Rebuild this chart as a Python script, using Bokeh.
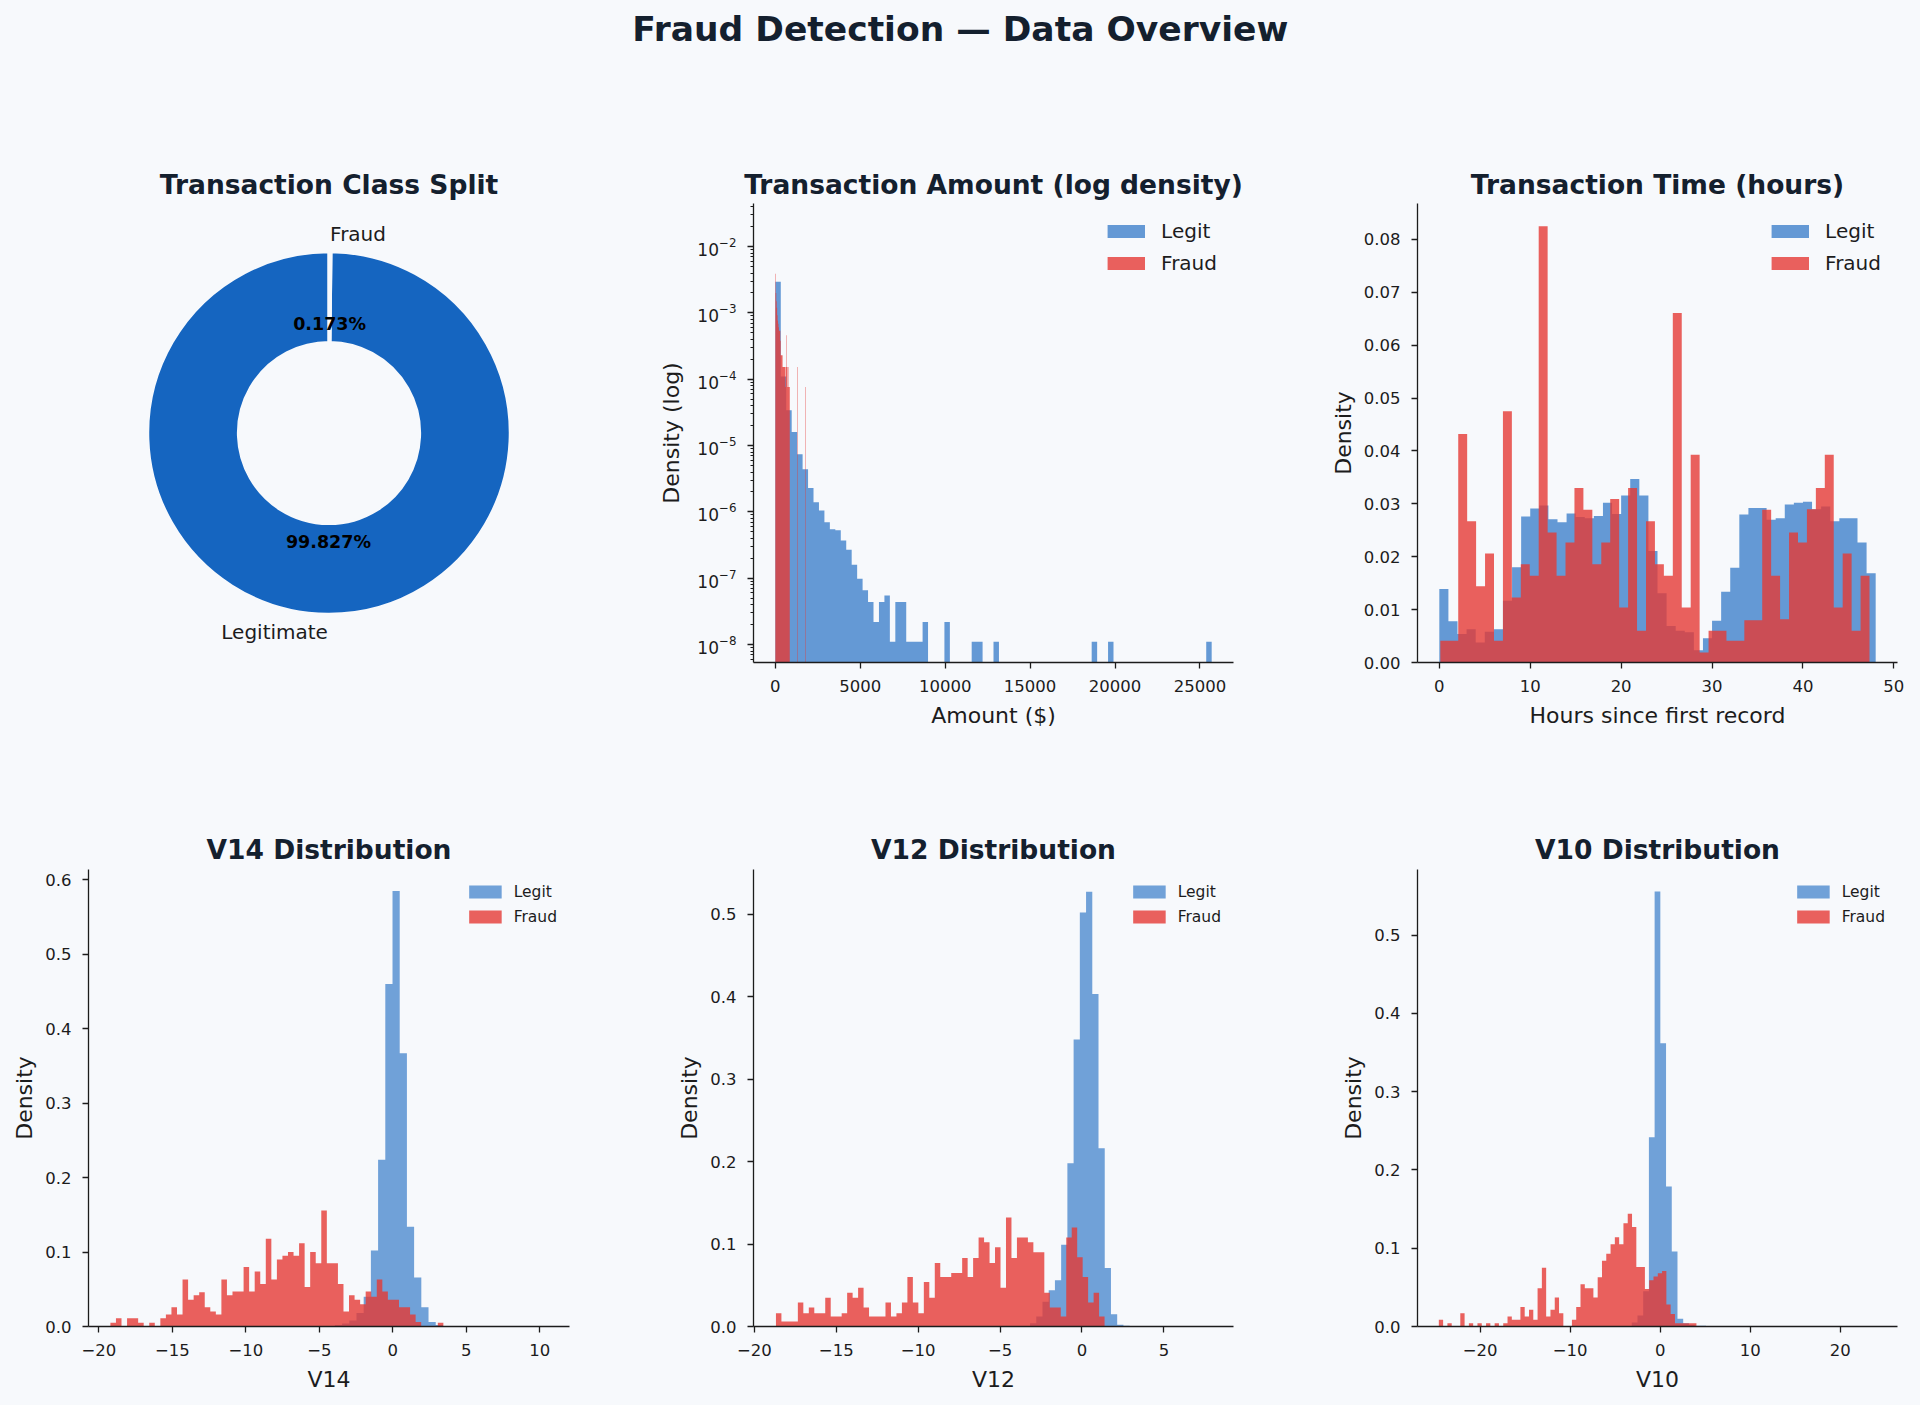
import numpy as np
from bokeh.plotting import figure
from bokeh.models import (FixedTicker, CustomJSTickFormatter, Legend, LegendItem,
                          Label, Range1d, LogTickFormatter)
from bokeh.layouts import column, row
from bokeh.embed import file_html
from bokeh.resources import INLINE
from bokeh.core.properties import value

# ---------------- data ----------------
pie_labels = ["Legitimate", "Fraud"]
pie_values = [99.827, 0.173]

# Transaction amount (density, log axis), 80 bins each
amount_legit_range = (0.0, 25691.16)
amount_legit = [2.95e-3, 1.1e-4, 3.4e-5, 1.6e-5, 7.4e-6, 4.4e-6, 2.3e-6, 1.4e-6, 1.05e-6, 7.0e-7,
                5.5e-7, 5.3e-7, 3.7e-7, 2.7e-7, 1.6e-7, 9.8e-8, 6.6e-8, 4.4e-8, 2.2e-8, 4.4e-8,
                5.5e-8, 1.1e-8, 4.4e-8, 4.4e-8, 1.1e-8, 1.1e-8, 1.1e-8, 2.2e-8, 0, 0,
                0, 2.2e-8, 0, 0, 0, 0, 1.1e-8, 1.1e-8, 0, 0,
                1.1e-8, 0, 0, 0, 0, 0, 0, 0, 0, 0,
                0, 0, 0, 0, 0, 0, 0, 0, 1.1e-8, 0,
                0, 1.1e-8, 0, 0, 0, 0, 0, 0, 0, 0,
                0, 0, 0, 0, 0, 0, 0, 0, 0, 1.1e-8]
amount_fraud_range = (0.0, 2125.87)
amount_fraud = [3.9e-3, 2.0e-3, 1.5e-3, 1.2e-3, 9.2e-4, 7.7e-4, 6.9e-4, 6.1e-4, 5.4e-4, 5.4e-4,
                5.4e-4, 3.8e-4, 2.3e-4, 2.3e-4, 2.3e-4, 2.3e-4, 1.53e-4, 1.53e-4, 1.53e-4, 1.53e-4,
                1.53e-4, 1.53e-4, 7.65e-5, 1.53e-4, 4.6e-4, 1.53e-4, 7.65e-5, 1.53e-4, 1.53e-4, 7.65e-5,
                7.65e-5, 7.65e-5, 0, 0, 0, 0, 0, 0, 0, 0,
                0, 0, 0, 0, 0, 0, 0, 0, 0, 1.53e-4,
                0, 0, 0, 0, 0, 0, 0, 0, 0, 0,
                0, 0, 0, 0, 0, 0, 7.65e-5, 0, 0, 0,
                0, 0, 0, 0, 0, 0, 0, 0, 0, 0]

# Transaction time (hours), 48 bins each
time_legit_range = (0.0, 48.0)
time_legit = [0.0139, 0.0078, 0.0054, 0.0063, 0.0038, 0.0058, 0.0063, 0.0117, 0.0180, 0.0276,
              0.0291, 0.0297, 0.0271, 0.0265, 0.0282, 0.0275, 0.0273, 0.0277, 0.0302, 0.0281,
              0.0316, 0.0347, 0.0316, 0.0211, 0.0131, 0.0069, 0.0060, 0.0057, 0.0023, 0.0046,
              0.0079, 0.0134, 0.0179, 0.0280, 0.0292, 0.0292, 0.0270, 0.0273, 0.0299, 0.0302,
              0.0304, 0.0290, 0.0295, 0.0267, 0.0273, 0.0273, 0.0227, 0.0169]
time_fraud_range = (0.113, 47.32)
time_fraud = [0.0041, 0.0041, 0.0432, 0.0267, 0.0144, 0.0206, 0.0041, 0.0475, 0.0123, 0.0186,
              0.0164, 0.0825, 0.0246, 0.0164, 0.0227, 0.0330, 0.0289, 0.0186, 0.0227, 0.0309,
              0.0104, 0.0330, 0.0060, 0.0267, 0.0186, 0.0164, 0.0661, 0.0104, 0.0393, 0.0019,
              0.0060, 0.0060, 0.0041, 0.0041, 0.0080, 0.0080, 0.0289, 0.0164, 0.0082, 0.0246,
              0.0227, 0.0290, 0.0330, 0.0393, 0.0104, 0.0206, 0.0060, 0.0164]

# V14
v14_legit_start, v14_legit_width = -3.94, 0.49
v14_legit = [0.002, 0.004, 0.008, 0.018, 0.040, 0.102, 0.224, 0.460, 0.585, 0.367,
             0.134, 0.066, 0.026, 0.006, 0.002]
v14_fraud_range = (-19.21, 3.44)
v14_fraud = [0.005, 0.011, 0.0, 0.011, 0.011, 0.005, 0.0, 0.005, 0.0, 0.011,
             0.016, 0.026, 0.016, 0.063, 0.036, 0.042, 0.046, 0.026, 0.020, 0.016,
             0.063, 0.042, 0.047, 0.047, 0.080, 0.047, 0.074, 0.057, 0.118, 0.063,
             0.090, 0.095, 0.100, 0.095, 0.112, 0.053, 0.100, 0.085, 0.156, 0.085,
             0.085, 0.057, 0.020, 0.042, 0.036, 0.030, 0.047, 0.040, 0.063, 0.047,
             0.036, 0.036, 0.026, 0.026, 0.016, 0.006, 0.0, 0.0, 0.0, 0.005]

# V12
v12_legit_start, v12_legit_width = -3.17, 0.38
v12_legit = [0.004, 0.012, 0.030, 0.044, 0.056, 0.099, 0.198, 0.348, 0.502, 0.527,
             0.403, 0.216, 0.071, 0.015, 0.002, 0.001]
v12_fraud_range = (-18.68, 1.38)
v12_fraud = [0.016, 0.006, 0.006, 0.006, 0.029, 0.016, 0.023, 0.016, 0.016, 0.035,
             0.012, 0.012, 0.016, 0.041, 0.035, 0.047, 0.023, 0.012, 0.012, 0.012,
             0.029, 0.012, 0.016, 0.029, 0.060, 0.029, 0.016, 0.054, 0.035, 0.077,
             0.060, 0.060, 0.065, 0.065, 0.083, 0.060, 0.083, 0.108, 0.102, 0.077,
             0.096, 0.047, 0.132, 0.083, 0.108, 0.108, 0.102, 0.090, 0.090, 0.041,
             0.023, 0.023, 0.012, 0.108, 0.120, 0.084, 0.060, 0.029, 0.041, 0.012]

# V10
v10_legit_start, v10_legit_width = -3.155, 0.635
v10_legit = [0.005, 0.014, 0.045, 0.242, 0.556, 0.362, 0.179, 0.096, 0.010, 0.004,
             0.002, 0.001, 0.001]
v10_fraud_range = (-24.59, 4.03)
v10_fraud = [0.0085, 0.0, 0.0043, 0.0, 0.0, 0.017, 0.0, 0.0043, 0.0, 0.0043,
             0.0, 0.0043, 0.0, 0.0043, 0.0, 0.0043, 0.0128, 0.0085, 0.0085, 0.025,
             0.0128, 0.0213, 0.0085, 0.049, 0.075, 0.0128, 0.0213, 0.037, 0.017, 0.0,
             0.0, 0.0085, 0.025, 0.054, 0.049, 0.049, 0.037, 0.063, 0.084, 0.093,
             0.105, 0.114, 0.105, 0.132, 0.144, 0.127, 0.076, 0.076, 0.048, 0.059,
             0.064, 0.068, 0.071, 0.028, 0.016, 0.0043, 0.0043, 0.0043, 0.0043, 0.0043]

# tick values
amount_xticks = [0, 5000, 10000, 15000, 20000, 25000]
amount_yticks = [1e-8, 1e-7, 1e-6, 1e-5, 1e-4, 1e-3, 1e-2]
time_xticks = [0, 10, 20, 30, 40, 50]
time_yticks = [0.0, 0.01, 0.02, 0.03, 0.04, 0.05, 0.06, 0.07, 0.08]
v14_xticks = [-20, -15, -10, -5, 0, 5, 10]
v12_xticks = [-20, -15, -10, -5, 0, 5]
v10_xticks = [-20, -10, 0, 10, 20]
v14_yticks = [0.0, 0.1, 0.2, 0.3, 0.4, 0.5, 0.6]
v12_yticks = [0.0, 0.1, 0.2, 0.3, 0.4, 0.5]
v10_yticks = [0.0, 0.1, 0.2, 0.3, 0.4, 0.5]

# ---------------- style ----------------
BG = "#f7f9fc"
FONT = "DejaVu Sans"
INK = "#1c1c1c"
TINK = "#14202e"
BLUE = "#1565c0"
RED = "#e53935"

minus_fmt = CustomJSTickFormatter(code="return (tick < 0 ? '\\u2212' : '') + Math.abs(tick).toString();")
fmt2 = CustomJSTickFormatter(code="return tick.toFixed(2);")
fmt1 = CustomJSTickFormatter(code="return tick.toFixed(1);")


def edges_lin(lo, hi, n):
    return np.linspace(lo, hi, n + 1)


def edges_step(start, width, n):
    return start + width * np.arange(n + 1)


def make_fig(width, height, bl, br, bt, bb, title, xr, yr, log=False, axes=True, tstand=8):
    kw = {}
    if not axes:
        kw = dict(x_axis_location=None, y_axis_location=None)
    p = figure(width=width, height=height, x_range=Range1d(*xr), y_range=Range1d(*yr),
               y_axis_type="log" if log else "linear",
               output_backend="svg", toolbar_location=None,
               min_border_left=bl, min_border_right=br, min_border_top=bt, min_border_bottom=bb,
               background_fill_color=BG, border_fill_color=BG, outline_line_color=None,
               title=title, **kw)
    p.grid.visible = False
    p.title.text_font = FONT
    p.title.text_font_size = "26.5px"
    p.title.text_font_style = "bold"
    p.title.text_color = TINK
    p.title.align = "center"
    p.title.standoff = tstand
    for ax in p.axis:
        ax.axis_line_color = INK
        ax.axis_line_width = 1.3
        ax.major_tick_line_color = INK
        ax.major_tick_line_width = 1.3
        ax.major_tick_out = 6
        ax.major_tick_in = 0
        ax.minor_tick_line_color = None
        ax.major_label_text_font = FONT
        ax.major_label_text_font_size = "16.5px"
        ax.major_label_text_color = INK
        ax.major_label_standoff = 11
        ax.axis_label_text_font = FONT
        ax.axis_label_text_font_size = "22px"
        ax.axis_label_text_font_style = "normal"
        ax.axis_label_text_color = INK
        ax.axis_label_standoff = 8
    return p


def add_hist(p, e, vals, color, alpha, floor=0.0):
    e = np.asarray(e, dtype=float)
    v = np.asarray(vals, dtype=float)
    v = np.where(v > 0, v, floor) if floor > 0 else v
    y2 = np.append(v, v[-1])
    p.varea_step(x=e, y1=np.full(len(e), floor), y2=y2, step_mode="after",
                 fill_color=color, fill_alpha=alpha)


def add_legend(p, a_b, a_r, size, gw, gh, standoff, margin, padding, lh, spacing):
    lb = p.line(x=[np.nan], y=[np.nan], line_color=BLUE, line_alpha=a_b, line_width=gh, line_cap="butt")
    lr = p.line(x=[np.nan], y=[np.nan], line_color=RED, line_alpha=a_r, line_width=gh, line_cap="butt")
    leg = Legend(items=[LegendItem(label="Legit", renderers=[lb]),
                        LegendItem(label="Fraud", renderers=[lr])],
                 location="top_right", label_text_font=FONT, label_text_font_size=size,
                 label_text_color=INK, glyph_width=gw, glyph_height=lh, label_height=lh,
                 label_standoff=standoff, margin=margin, padding=padding, spacing=spacing,
                 background_fill_alpha=0, border_line_alpha=0)
    p.add_layout(leg)


# ---------------- title ----------------
tfig = figure(width=1896, height=60, x_range=Range1d(0, 1), y_range=Range1d(0, 60),
              output_backend="svg", toolbar_location=None, min_border=0,
              x_axis_location=None, y_axis_location=None,
              background_fill_color=BG, border_fill_color=BG, outline_line_color=None)
tfig.grid.visible = False
tfig.add_layout(Label(x=0.502, y=40, text="Fraud Detection \u2014 Data Overview",
                      text_font=FONT, text_font_size="34.5px", text_font_style="bold",
                      text_color=TINK, text_align="center", text_baseline="middle"))

A_TOP_B, A_TOP_R = 0.65, 0.8
A_BOT_B, A_BOT_R = 0.6, 0.8

# ---------------- pie ----------------
ppie = make_fig(645, 684, 80, 84, 135, 90, "Transaction Class Split",
                (-1.327, 1.327), (-1.2666, 1.2666), axes=False)
frac = np.array(pie_values) / np.sum(pie_values)
starts = np.pi / 2 + 2 * np.pi * np.concatenate([[0], np.cumsum(frac)[:-1]])
ends = starts + 2 * np.pi * frac
ppie.annular_wedge(x=0, y=0, inner_radius=0.5, outer_radius=1.0,
                   start_angle=starts, end_angle=ends,
                   fill_color=[BLUE, RED], line_color=BG, line_width=3)
mids = (starts + ends) / 2
lx, ly = 1.1 * np.cos(mids), 1.1 * np.sin(mids)
aligns = ["left" if x > 0 else "right" for x in lx]
ppie.text(x=lx, y=ly, text=pie_labels, text_align=aligns, text_baseline="middle",
          text_font=value(FONT), text_font_size="20px", text_color=INK)
px_, py_ = 0.6 * np.cos(mids), 0.6 * np.sin(mids)
ppie.text(x=px_, y=py_, text=[f"{v:.3f}%" for v in pie_values], text_align="center",
          text_baseline="middle", text_font=value(FONT), text_font_size="17.5px",
          text_font_style="bold", text_color="#000000")

# ---------------- amount ----------------
pam = make_fig(664, 684, 100, 84, 135, 90, "Transaction Amount (log density)",
               (-1285, 26976), (5.37e-9, 0.0447), log=True)
add_hist(pam, edges_lin(*amount_legit_range, len(amount_legit)), amount_legit, BLUE, A_TOP_B,
         floor=1e-12)
add_hist(pam, edges_lin(*amount_fraud_range, len(amount_fraud)), amount_fraud, RED, A_TOP_R,
         floor=1e-12)
pam.xaxis.ticker = FixedTicker(ticks=amount_xticks)
pam.xaxis.formatter = minus_fmt
pam.yaxis.ticker = FixedTicker(ticks=amount_yticks,
                               minor_ticks=[m * 10.0 ** k for k in range(-9, -1) for m in range(2, 10)])
pam.yaxis.formatter = LogTickFormatter()
pam.yaxis.major_label_text_font_size = "17px"
pam.yaxis.minor_tick_line_color = INK
pam.yaxis.minor_tick_line_width = 1
pam.yaxis.minor_tick_out = 3
pam.yaxis.minor_tick_in = 0
pam.xaxis.axis_label = "Amount ($)"
pam.yaxis.axis_label = "Density (log)"
pam.yaxis.axis_label_standoff = 10
add_legend(pam, A_TOP_B, A_TOP_R, "20px", 38, 13, 16, 10, 6, 22, 8)

# ---------------- time ----------------
pti = make_fig(587, 684, 100, 7, 135, 90, "Transaction Time (hours)",
               (-2.4, 50.4), (0, 0.0868))
add_hist(pti, edges_lin(*time_legit_range, len(time_legit)), time_legit, BLUE, A_TOP_B)
add_hist(pti, edges_lin(*time_fraud_range, len(time_fraud)), time_fraud, RED, A_TOP_R)
pti.xaxis.ticker = FixedTicker(ticks=time_xticks)
pti.xaxis.formatter = minus_fmt
pti.yaxis.ticker = FixedTicker(ticks=time_yticks)
pti.yaxis.formatter = fmt2
pti.xaxis.axis_label = "Hours since first record"
pti.yaxis.axis_label = "Density"
pti.yaxis.axis_label_standoff = 5
add_legend(pti, A_TOP_B, A_TOP_R, "20px", 38, 13, 16, 10, 6, 22, 8)


# ---------------- V distributions ----------------
def v_fig(width, bl, br, name, xr, yr, lstart, lwidth, lvals, frange, fvals, xt, yt):
    p = make_fig(width, 642, bl, br, 117, 68, f"{name} Distribution", xr, yr, tstand=10)
    add_hist(p, edges_step(lstart, lwidth, len(lvals)), lvals, BLUE, A_BOT_B)
    add_hist(p, edges_lin(*frange, len(fvals)), fvals, RED, A_BOT_R)
    p.xaxis.ticker = FixedTicker(ticks=xt)
    p.xaxis.formatter = minus_fmt
    p.yaxis.ticker = FixedTicker(ticks=yt)
    p.yaxis.formatter = fmt1
    p.xaxis.axis_label = name
    p.yaxis.axis_label = "Density"
    p.yaxis.axis_label_standoff = 5
    add_legend(p, A_BOT_B, A_BOT_R, "15.5px", 33, 13, 12, 7, 5, 21, 4)
    return p


p14 = v_fig(645, 80, 84, "V14", (-20.7, 12.02), (0, 0.614), v14_legit_start, v14_legit_width,
            v14_legit, v14_fraud_range, v14_fraud, v14_xticks, v14_yticks)
p12 = v_fig(664, 100, 84, "V12", (-20.05, 9.25), (0, 0.554), v12_legit_start, v12_legit_width,
            v12_legit, v12_fraud_range, v12_fraud, v12_xticks, v12_yticks)
p10 = v_fig(587, 100, 7, "V10", (-26.96, 26.37), (0, 0.584), v10_legit_start, v10_legit_width,
            v10_legit, v10_fraud_range, v10_fraud, v10_xticks, v10_yticks)

layout = column(tfig, row(ppie, pam, pti), row(p14, p12, p10))
html = file_html(layout, INLINE, title="Fraud Detection \u2014 Data Overview")
css = f"<style>html, body {{ background-color: {BG} !important; margin: 0; }} body {{ margin: 8px !important; }}</style>"
html = html.replace("</head>", css + "</head>", 1)
with open("out.html", "w", encoding="utf-8") as f:
    f.write(html)
